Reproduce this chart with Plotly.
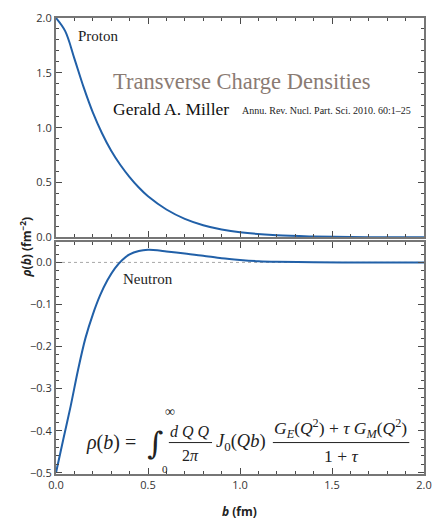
import plotly.graph_objects as go

# Transverse charge densities (fm^-2) versus impact parameter b (fm)
b_proton = [0, 0.05, 0.1, 0.15, 0.2, 0.25, 0.3, 0.35, 0.4, 0.45, 0.5, 0.6, 0.7,
            0.8, 0.9, 1.0, 1.2, 1.4, 1.6, 1.8, 2.0]
rho_proton = [2.0, 1.88, 1.63, 1.37, 1.14, 0.95, 0.79, 0.66, 0.55, 0.455, 0.375,
              0.255, 0.17, 0.112, 0.073, 0.047, 0.020, 0.009, 0.004, 0.002, 0.001]

b_neutron = [0, 0.04, 0.08, 0.12, 0.16, 0.2, 0.24, 0.28, 0.32, 0.36, 0.4, 0.45,
             0.5, 0.55, 0.6, 0.7, 0.8, 0.9, 1.0, 1.1, 1.2, 1.4, 1.7, 2.0]
rho_neutron = [-0.50, -0.42, -0.341, -0.255, -0.18, -0.124, -0.078, -0.042,
               -0.014, 0.006, 0.019, 0.027, 0.030, 0.029, 0.026, 0.021, 0.016,
               0.010, 0.006, 0.003, 0.0015, 0.0003, -0.0003, -0.0002]

x_ticks = [0.0, 0.5, 1.0, 1.5, 2.0]
top_y_ticks = [0.0, 0.5, 1.0, 1.5, 2.0]
bottom_y_ticks = [-0.5, -0.4, -0.3, -0.2, -0.1, 0.0]

W, H = 442, 523
ML, MR, MT, MB = 56, 11, 10, 49
LINE = "#2160a8"
FRAME = "#767676"
TICKC = "#4a4a4a"
SERIF = "Liberation Serif"
SANS = "Open Sans"


def paper(px, py):
    """Pixel position -> paper coordinates."""
    return ((px - ML) / (W - ML - MR), (H - MB - py) / (H - MT - MB))


fig = go.Figure()
fig.add_trace(go.Scatter(x=b_proton, y=rho_proton, mode="lines",
                         line=dict(color=LINE, width=2, shape="spline", smoothing=1.0),
                         xaxis="x2", yaxis="y2", hoverinfo="skip"))
fig.add_trace(go.Scatter(x=b_neutron, y=rho_neutron, mode="lines",
                         line=dict(color=LINE, width=2, shape="spline", smoothing=0.8),
                         xaxis="x", yaxis="y", hoverinfo="skip"))

axis_common = dict(
    showline=True, linecolor=FRAME, linewidth=2, mirror="ticks",
    ticks="inside", ticklen=6, tickwidth=1.2, tickcolor=TICKC,
    showgrid=False, zeroline=False,
    tickfont=dict(family=SANS, size=11, color="#333333"),
)

fig.update_layout(
    width=W, height=H,
    margin=dict(l=ML, r=MR, t=MT, b=MB),
    paper_bgcolor="white", plot_bgcolor="white",
    showlegend=False,
    xaxis=dict(axis_common, range=[0, 2.0], tickvals=x_ticks, tickformat=".1f",
               minor=dict(ticks="inside", ticklen=3, dtick=0.1, tickcolor=TICKC, tickwidth=1),
               anchor="y", domain=[0, 1]),
    yaxis=dict(axis_common, range=[-0.503, 0.0477], tickvals=bottom_y_ticks,
               tickformat=".1f",
               minor=dict(ticks="inside", ticklen=3, dtick=0.02, tickcolor=TICKC, tickwidth=1),
               anchor="x", domain=[0, 0.508]),
    xaxis2=dict(axis_common, range=[0, 2.0], tickvals=x_ticks, showticklabels=False,
                minor=dict(ticks="inside", ticklen=3, dtick=0.1, tickcolor=TICKC, tickwidth=1),
                anchor="y2", matches="x", domain=[0, 1]),
    yaxis2=dict(axis_common, range=[0, 2.0], tickvals=top_y_ticks, tickformat=".1f",
                minor=dict(ticks="inside", ticklen=3, dtick=0.1, tickcolor=TICKC, tickwidth=1),
                anchor="x2", domain=[0.5187, 1]),
)

# dotted zero reference in the neutron panel
fig.add_shape(type="line", xref="x", yref="y", x0=0, x1=2.0, y0=0, y1=0,
              line=dict(color="#a8a8a8", width=1, dash="dot"), layer="below")

annotations = []


def text(px, py, s, size, color="#222222", family=SERIF, xanchor="left", **kw):
    x, y = paper(px, py)
    annotations.append(dict(x=x, y=y, xref="paper", yref="paper", text=s,
                            showarrow=False, xanchor=xanchor, yanchor="middle",
                            font=dict(family=family, size=size, color=color), **kw))


text(76, 28, "Proton", 15)
text(112, 75, "Transverse Charge Densities", 22.5, color="#8a7b73")
text(112, 103, "Gerald A. Miller", 17.5, color="#111111")
text(243, 104, "Annu. Rev. Nucl. Part. Sci. 2010. 60:1–25", 10, color="#222222")
text(122, 276, "Neutron", 15)

# axis titles
text(243, 512, "<b><i>b</i> (fm)</b>", 12, color="#222222", family=SANS, xanchor="center")
x_t, y_t = paper(25, 243)
annotations.append(dict(x=x_t, y=y_t, xref="paper", yref="paper",
                        text="<b><i>ρ</i>(<i>b</i>) (fm<sup>−2</sup>)</b>",
                        showarrow=False, textangle=-90, xanchor="center", yanchor="middle",
                        font=dict(family=SANS, size=12, color="#222222")))

# transverse density formula
text(85, 442, "<i>ρ</i>(<i>b</i>) =", 20)
text(147, 442, "∫", 31, family="DejaVu Serif")
text(165, 410, "∞", 14)
text(162, 469, "0", 11)
text(193, 431, "<i>d Q Q</i>", 16, xanchor="center")
text(193, 455, "2<i>π</i>", 16, xanchor="center")
text(217, 442, "<i>J</i><sub>0</sub>(<i>Qb</i>)", 18.5)
text(346, 428, "<i>G</i><sub><i>E</i></sub>(<i>Q</i><sup>2</sup>) + <i>τ G</i><sub><i>M</i></sub>(<i>Q</i><sup>2</sup>)", 17.5, xanchor="center")
text(346, 456, "1 + <i>τ</i>", 17.5, xanchor="center")

for x0p, x1p in [(171, 215), (277, 416)]:
    a0, yy = paper(x0p, 442)
    a1, _ = paper(x1p, 442)
    fig.add_shape(type="line", xref="paper", yref="paper", x0=a0, x1=a1, y0=yy, y1=yy,
                  line=dict(color="#222222", width=1))

fig.update_layout(annotations=annotations)
fig.write_html("out.html")
